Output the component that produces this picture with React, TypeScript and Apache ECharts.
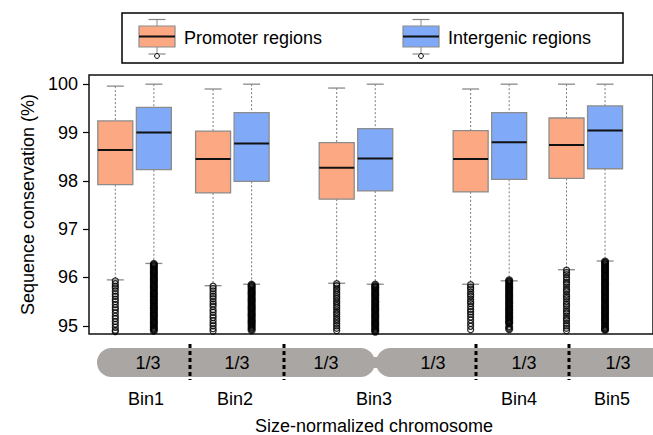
import React, { useEffect, useRef } from 'react';
import * as echarts from 'echarts';

// ---------- data ----------
const bins = ['Bin1', 'Bin2', 'Bin3', 'Bin4', 'Bin5'];
const seriesNames = ['Promoter regions', 'Intergenic regions'];
const yTicks = [95, 96, 97, 98, 99, 100];
const armLabels = ['1/3', '1/3', '1/3', '1/3', '1/3', '1/3'];
const xAxisTitle = 'Size-normalized chromosome';
const yAxisTitle = 'Sequence conservation (%)';

// [lower whisker, Q1, median, Q3, upper whisker]
const promoterStats = [
  [95.95, 97.92, 98.64, 99.24, 99.96],
  [95.83, 97.75, 98.45, 99.03, 99.9],
  [95.88, 97.62, 98.27, 98.79, 99.92],
  [95.86, 97.77, 98.45, 99.04, 99.9],
  [96.16, 98.05, 98.74, 99.3, 100.0],
];
const intergenicStats = [
  [96.29, 98.23, 99.0, 99.52, 100.0],
  [95.86, 97.99, 98.77, 99.41, 100.0],
  [95.86, 97.79, 98.46, 99.08, 100.0],
  [95.93, 98.03, 98.8, 99.41, 100.0],
  [96.34, 98.25, 99.04, 99.55, 100.0],
];

const promoterOutliers = [
  [95.93, 95.87, 95.82, 95.78, 95.72, 95.66, 95.61, 95.55, 95.5, 95.44, 95.38, 95.33, 95.27, 95.2, 95.15, 95.09, 95.03, 94.97, 94.91, 94.88],
  [95.82, 95.77, 95.72, 95.66, 95.61, 95.56, 95.5, 95.45, 95.4, 95.33, 95.28, 95.22, 95.17, 95.11, 95.05, 95.0, 94.94, 94.89],
  [95.87, 95.83, 95.78, 95.74, 95.69, 95.65, 95.6, 95.56, 95.51, 95.47, 95.42, 95.38, 95.33, 95.28, 95.24, 95.19, 95.14, 95.1, 95.05, 95.0, 94.95, 94.9],
  [95.85, 95.8, 95.76, 95.7, 95.65, 95.61, 95.55, 95.5, 95.46, 95.4, 95.34, 95.29, 95.24, 95.18, 95.12, 95.05, 94.99, 94.92],
  [96.15, 96.1, 96.06, 96.0, 95.95, 95.9, 95.86, 95.8, 95.75, 95.71, 95.65, 95.6, 95.56, 95.5, 95.45, 95.41, 95.35, 95.3, 95.26, 95.2, 95.15, 95.11, 95.05, 95.0, 94.95, 94.9],
];
const intergenicOutliers = [
  [96.28, 96.25, 96.21, 96.17, 96.13, 96.1, 96.06, 96.02, 95.98, 95.95, 95.91, 95.87, 95.83, 95.8, 95.76, 95.72, 95.68, 95.65, 95.61, 95.57, 95.53, 95.5, 95.46, 95.42, 95.38, 95.35, 95.31, 95.27, 95.23, 95.2, 95.16, 95.12, 95.08, 95.05, 95.01, 94.97, 94.93, 94.9],
  [95.85, 95.82, 95.78, 95.74, 95.7, 95.67, 95.63, 95.59, 95.55, 95.52, 95.48, 95.44, 95.4, 95.37, 95.33, 95.29, 95.25, 95.22, 95.18, 95.14, 95.1, 95.07, 95.03, 94.99, 94.95, 94.91],
  [95.85, 95.81, 95.78, 95.74, 95.7, 95.66, 95.63, 95.59, 95.55, 95.51, 95.48, 95.44, 95.4, 95.36, 95.33, 95.29, 95.25, 95.21, 95.18, 95.14, 95.1, 95.06, 95.03, 94.99, 94.95, 94.91, 94.88],
  [95.94, 95.91, 95.87, 95.83, 95.79, 95.76, 95.72, 95.68, 95.64, 95.61, 95.57, 95.53, 95.49, 95.46, 95.42, 95.38, 95.34, 95.31, 95.27, 95.23, 95.19, 95.16, 95.12, 95.08, 95.05, 94.98, 94.93],
  [96.33, 96.3, 96.26, 96.22, 96.18, 96.15, 96.11, 96.07, 96.03, 96.0, 95.96, 95.92, 95.88, 95.85, 95.81, 95.77, 95.73, 95.7, 95.66, 95.62, 95.58, 95.55, 95.51, 95.47, 95.43, 95.4, 95.36, 95.32, 95.28, 95.25, 95.21, 95.17, 95.13, 95.1, 95.06, 95.02, 94.98, 94.94, 94.92],
];

// ---------- layout / style ----------
const FONT = 'Liberation Sans, Arial, Helvetica, sans-serif';
const COLORS = ['#FCA882', '#80AAF8'];
const binX = [48.5, 152.5, 284, 426.5, 528.5]; // x-axis units (1 unit = 1 px from grid left)
const pairOffset = 20.5;
const boxHalf = 17.5;
const capHalf = 8.5;
const armLabelX = [148, 237, 326, 433, 524, 618];
const binLabelX = [146, 235, 374, 519, 612];
const dividerX = [190, 284, 476, 569];
const outlierStyle = [
  { size: 6, border: 1.3 },
  { size: 6, border: 2.2 },
];

function makeRenderItem(fill: string) {
  return (_params: any, api: any) => {
    const x = api.value(0);
    const lo = api.coord([x, api.value(1)]);
    const q1 = api.coord([x, api.value(2)]);
    const med = api.coord([x, api.value(3)]);
    const q3 = api.coord([x, api.value(4)]);
    const hi = api.coord([x, api.value(5)]);
    const cx = lo[0];
    const whisk = { stroke: '#7a7a7a', lineWidth: 1, lineDash: [2, 2] };
    const cap = { stroke: '#8a8a8a', lineWidth: 1.3 };
    return {
      type: 'group',
      children: [
        { type: 'line', shape: { x1: cx, y1: hi[1], x2: cx, y2: q3[1] }, style: whisk },
        { type: 'line', shape: { x1: cx, y1: q1[1], x2: cx, y2: lo[1] }, style: whisk },
        { type: 'line', shape: { x1: cx - capHalf, y1: hi[1], x2: cx + capHalf, y2: hi[1] }, style: cap },
        { type: 'line', shape: { x1: cx - capHalf, y1: lo[1], x2: cx + capHalf, y2: lo[1] }, style: cap },
        {
          type: 'rect',
          shape: { x: cx - boxHalf, y: q3[1], width: boxHalf * 2, height: q1[1] - q3[1] },
          style: { fill, stroke: '#8c8c8c', lineWidth: 1.3 },
        },
        { type: 'line', shape: { x1: cx - boxHalf, y1: med[1], x2: cx + boxHalf, y2: med[1] }, style: { stroke: '#111', lineWidth: 2 } },
      ],
    };
  };
}

function legendIcon(cx: number, fill: string): any[] {
  return [
    { type: 'line', shape: { x1: cx, y1: 19.5, x2: cx, y2: 26 }, style: { stroke: '#888', lineWidth: 1 } },
    { type: 'line', shape: { x1: cx - 8.5, y1: 19.5, x2: cx + 8.5, y2: 19.5 }, style: { stroke: '#888', lineWidth: 1.2 } },
    { type: 'line', shape: { x1: cx, y1: 47, x2: cx, y2: 54 }, style: { stroke: '#888', lineWidth: 1 } },
    { type: 'line', shape: { x1: cx - 8.5, y1: 54, x2: cx + 8.5, y2: 54 }, style: { stroke: '#888', lineWidth: 1.2 } },
    { type: 'circle', shape: { cx, cy: 56, r: 2.4 }, style: { fill: '#fff', stroke: '#000', lineWidth: 1 } },
    { type: 'rect', shape: { x: cx - 18, y: 26, width: 36, height: 21 }, style: { fill, stroke: '#8c8c8c', lineWidth: 1.2 } },
    { type: 'line', shape: { x1: cx - 18, y1: 36.5, x2: cx + 18, y2: 36.5 }, style: { stroke: '#111', lineWidth: 2 } },
  ];
}

export default function App() {
  const ref = useRef<HTMLDivElement>(null);
  useEffect(() => {
    if (!ref.current) return;
    const chart = echarts.init(ref.current, undefined, { renderer: 'svg' });

    const statsList = [promoterStats, intergenicStats];
    const outList = [promoterOutliers, intergenicOutliers];
    const offsets = [-pairOffset, pairOffset];

    const series: any[] = [];
    statsList.forEach((stats, s) => {
      series.push({
        type: 'custom',
        name: seriesNames[s],
        renderItem: makeRenderItem(COLORS[s]),
        data: bins.map((_, i) => [binX[i] + offsets[s], ...stats[i]]),
        z: 2,
      });
    });
    outList.forEach((outs, s) => {
      const pts: number[][] = [];
      outs.forEach((arr, i) => arr.forEach((v) => pts.push([binX[i] + offsets[s], v])));
      series.push({
        type: 'scatter',
        name: seriesNames[s] + ' outliers',
        data: pts,
        symbol: 'circle',
        symbolSize: outlierStyle[s].size,
        itemStyle: { color: 'rgba(0,0,0,0)', borderColor: '#000', borderWidth: outlierStyle[s].border },
        z: 3,
        silent: true,
      });
    });

    const chromY = 348;
    const chromH = 29;
    const graphics: any[] = [
      // legend
      { type: 'rect', shape: { x: 122, y: 13, width: 501, height: 50 }, style: { fill: '#fff', stroke: '#000', lineWidth: 1.5 } },
      ...legendIcon(157, COLORS[0]),
      { type: 'text', x: 184, y: 38, style: { text: seriesNames[0], fontSize: 18, fontFamily: FONT, fill: '#000', verticalAlign: 'middle' } },
      ...legendIcon(421, COLORS[1]),
      { type: 'text', x: 448, y: 38, style: { text: seriesNames[1], fontSize: 18, fontFamily: FONT, fill: '#000', verticalAlign: 'middle' } },
      // chromosome
      { type: 'rect', shape: { x: 97, y: chromY, width: 278, height: chromH, r: chromH / 2 }, style: { fill: '#A9A6A3' } },
      { type: 'rect', shape: { x: 376, y: chromY, width: 330, height: chromH, r: chromH / 2 }, style: { fill: '#A9A6A3' } },
      { type: 'rect', shape: { x: 366, y: chromY + 9, width: 20, height: 11 }, style: { fill: '#A9A6A3' } },
      ...dividerX.map((x) => ({
        type: 'line',
        shape: { x1: x, y1: 344, x2: x, y2: 380 },
        style: { stroke: '#000', lineWidth: 3, lineDash: [4, 3] },
      })),
      ...armLabels.map((t, i) => ({
        type: 'text', x: armLabelX[i], y: chromY + chromH / 2,
        style: { text: t, fontSize: 18, fontFamily: FONT, fill: '#000', align: 'center', verticalAlign: 'middle' },
      })),
      ...bins.map((b, i) => ({
        type: 'text', x: binLabelX[i], y: 399,
        style: { text: b, fontSize: 18, fontFamily: FONT, fill: '#000', align: 'center', verticalAlign: 'middle' },
      })),
      { type: 'text', x: 374, y: 426, style: { text: xAxisTitle, fontSize: 18, fontFamily: FONT, fill: '#000', align: 'center', verticalAlign: 'middle' } },
    ];

    chart.setOption({
      animation: false,
      backgroundColor: '#fff',
      grid: { left: 89, top: 75, bottom: 101, right: -36, show: true, borderColor: '#111', borderWidth: 1.5, backgroundColor: 'transparent' },
      xAxis: { type: 'value', min: 0, max: 600, show: false },
      yAxis: {
        type: 'value',
        min: 94.83,
        max: 100.19,
        name: yAxisTitle,
        nameLocation: 'middle',
        nameGap: 52,
        nameTextStyle: { fontSize: 18, fontFamily: FONT, color: '#000' },
        axisLine: { show: false },
        axisTick: { show: true, length: 6, customValues: yTicks, lineStyle: { color: '#000', width: 1.2 } },
        axisLabel: { customValues: yTicks, fontSize: 18, fontFamily: FONT, color: '#000', margin: 11 },
        splitLine: { show: false },
      },
      series,
      graphic: graphics,
    });
    return () => chart.dispose();
  }, []);
  return <div ref={ref} style={{ position: 'absolute', left: 0, top: 0, width: 653, height: 435 }} />;
}
